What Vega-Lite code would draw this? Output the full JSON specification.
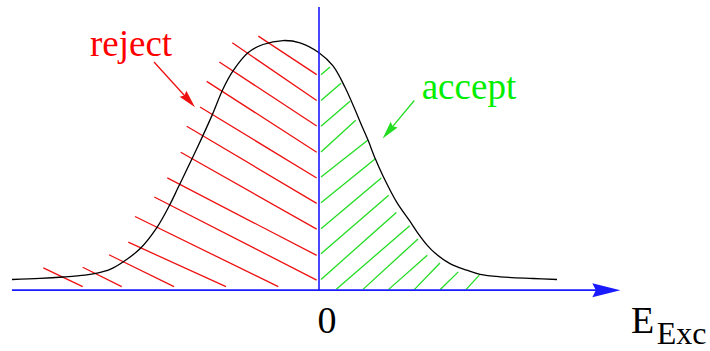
{
  "$schema": "https://vega.github.io/schema/vega-lite/v6.json",
  "width": 710,
  "height": 351,
  "padding": 0,
  "autosize": {"type": "fit", "contains": "padding"},
  "config": {"view": {"stroke": null}},
  "datasets": {
    "curve": [
      {"e": -3.07, "p": 0.108}, {"e": -2.79, "p": 0.119}, {"e": -2.56, "p": 0.133},
      {"e": -2.34, "p": 0.152}, {"e": -2.22, "p": 0.172}, {"e": -2.09, "p": 0.21},
      {"e": -1.96, "p": 0.285}, {"e": -1.79, "p": 0.418}, {"e": -1.62, "p": 0.635},
      {"e": -1.49, "p": 0.868}, {"e": -1.41, "p": 1.035}, {"e": -1.22, "p": 1.435},
      {"e": -1.07, "p": 1.768}, {"e": -0.96, "p": 2.035}, {"e": -0.86, "p": 2.218},
      {"e": -0.71, "p": 2.402}, {"e": -0.56, "p": 2.485}, {"e": -0.36, "p": 2.525},
      {"e": -0.19, "p": 2.502}, {"e": 0.0, "p": 2.402}, {"e": 0.14, "p": 2.268},
      {"e": 0.26, "p": 2.052}, {"e": 0.44, "p": 1.635}, {"e": 0.49, "p": 1.518},
      {"e": 0.563, "p": 1.328}, {"e": 0.64, "p": 1.155}, {"e": 0.78, "p": 0.885},
      {"e": 0.907, "p": 0.7}, {"e": 0.99, "p": 0.575}, {"e": 1.09, "p": 0.445},
      {"e": 1.16, "p": 0.375}, {"e": 1.31, "p": 0.268}, {"e": 1.477, "p": 0.202},
      {"e": 1.61, "p": 0.16}, {"e": 1.81, "p": 0.135}, {"e": 2.14, "p": 0.118},
      {"e": 2.38, "p": 0.108}
    ],
    "rejectHatch": [
      {"e": -0.607, "p": 2.57, "e2": -0.023, "p2": 2.18},
      {"e": -0.867, "p": 2.502, "e2": -0.023, "p2": 1.918},
      {"e": -0.997, "p": 2.308, "e2": -0.023, "p2": 1.66},
      {"e": -1.123, "p": 2.112, "e2": -0.023, "p2": 1.395},
      {"e": -1.19, "p": 1.852, "e2": -0.023, "p2": 1.135},
      {"e": -1.323, "p": 1.658, "e2": -0.023, "p2": 0.878},
      {"e": -1.383, "p": 1.395, "e2": -0.023, "p2": 0.618},
      {"e": -1.517, "p": 1.135, "e2": -0.023, "p2": 0.352},
      {"e": -1.647, "p": 0.942, "e2": -0.023, "p2": 0.102},
      {"e": -1.84, "p": 0.745, "e2": -0.407, "p2": 0.035},
      {"e": -1.907, "p": 0.485, "e2": -0.93, "p2": 0.035},
      {"e": -2.1, "p": 0.358, "e2": -1.45, "p2": 0.035},
      {"e": -2.363, "p": 0.232, "e2": -1.973, "p2": 0.035},
      {"e": -2.757, "p": 0.225, "e2": -2.363, "p2": 0.035}
    ],
    "acceptHatch": [
      {"e": 0.02, "p": 2.178, "e2": 0.11, "p2": 2.258},
      {"e": 0.02, "p": 1.918, "e2": 0.22, "p2": 2.092},
      {"e": 0.02, "p": 1.658, "e2": 0.31, "p2": 1.912},
      {"e": 0.02, "p": 1.398, "e2": 0.367, "p2": 1.718},
      {"e": 0.02, "p": 1.145, "e2": 0.49, "p2": 1.518},
      {"e": 0.02, "p": 0.885, "e2": 0.563, "p2": 1.328},
      {"e": 0.02, "p": 0.62, "e2": 0.623, "p2": 1.135},
      {"e": 0.02, "p": 0.368, "e2": 0.697, "p2": 0.96},
      {"e": 0.02, "p": 0.108, "e2": 0.773, "p2": 0.785},
      {"e": 0.173, "p": 0.008, "e2": 0.907, "p2": 0.652},
      {"e": 0.44, "p": 0.008, "e2": 0.99, "p2": 0.518},
      {"e": 0.697, "p": 0.008, "e2": 1.083, "p2": 0.352},
      {"e": 0.953, "p": 0.005, "e2": 1.21, "p2": 0.275},
      {"e": 1.21, "p": 0.005, "e2": 1.393, "p2": 0.185},
      {"e": 1.47, "p": 0.005, "e2": 1.603, "p2": 0.152}
    ],
    "axisLines": [
      {"e": -3.07, "p": 0, "e2": 2.8, "p2": 0},
      {"e": 0, "p": 0, "e2": 0, "p2": 2.865}
    ],
    "axisHead": [{"e": 2.8735, "p": 0}],
    "rejectPointer": [{"e": -1.65, "p": 2.308, "e2": -1.30, "p2": 1.919}],
    "rejectHead": [{"e": -1.30, "p": 1.919}],
    "acceptPointer": [{"e": 0.953, "p": 1.918, "e2": 0.694, "p2": 1.604}],
    "acceptHead": [{"e": 0.694, "p": 1.604}],
    "labels": [
      {"label": "reject", "e": -2.29, "p": 2.368},
      {"label": "accept", "e": 1.027, "p": 1.935},
      {"label": "0", "e": -0.015, "p": -0.432},
      {"label": "E", "e": 3.12, "p": -0.432},
      {"label": "Exc", "e": 3.377, "p": -0.548}
    ]
  },
  "encoding": {
    "x": {"field": "e", "type": "quantitative", "axis": null,
          "scale": {"domain": [-3.19, 3.91], "nice": false, "zero": false}},
    "y": {"field": "p", "type": "quantitative", "axis": null,
          "scale": {"domain": [-0.575, 2.935], "nice": false, "zero": false}}
  },
  "layer": [
    {
      "data": {"name": "rejectHatch"},
      "mark": {"type": "rule", "color": "#ee1111", "strokeWidth": 1.3},
      "encoding": {"x2": {"field": "e2"}, "y2": {"field": "p2"}}
    },
    {
      "data": {"name": "acceptHatch"},
      "mark": {"type": "rule", "color": "#22dd22", "strokeWidth": 1.3},
      "encoding": {"x2": {"field": "e2"}, "y2": {"field": "p2"}}
    },
    {
      "data": {"name": "curve"},
      "mark": {"type": "line", "color": "black", "strokeWidth": 1.3, "interpolate": "catmull-rom"},
      "encoding": {}
    },
    {
      "data": {"name": "axisLines"},
      "mark": {"type": "rule", "color": "#1a1aff", "strokeWidth": 1.6},
      "encoding": {"x2": {"field": "e2"}, "y2": {"field": "p2"}}
    },
    {
      "data": {"name": "axisHead"},
      "mark": {"type": "point", "filled": true, "opacity": 1, "color": "#1a1aff", "strokeWidth": 0,
               "shape": "M-1,-0.5L1,0L-1,0.5L-0.75,0Z", "size": 784, "angle": 0},
      "encoding": {}
    },
    {
      "data": {"name": "rejectPointer"},
      "mark": {"type": "rule", "color": "#ee1111", "strokeWidth": 1.3},
      "encoding": {"x2": {"field": "e2"}, "y2": {"field": "p2"}}
    },
    {
      "data": {"name": "rejectHead"},
      "mark": {"type": "point", "filled": true, "opacity": 1, "color": "#ee1111", "strokeWidth": 0,
               "shape": "M-1,-0.5L1,0L-1,0.5L-0.75,0Z", "size": 324, "angle": 48},
      "encoding": {}
    },
    {
      "data": {"name": "acceptPointer"},
      "mark": {"type": "rule", "color": "#22dd22", "strokeWidth": 1.3},
      "encoding": {"x2": {"field": "e2"}, "y2": {"field": "p2"}}
    },
    {
      "data": {"name": "acceptHead"},
      "mark": {"type": "point", "filled": true, "opacity": 1, "color": "#22dd22", "strokeWidth": 0,
               "shape": "M-1,-0.5L1,0L-1,0.5L-0.75,0Z", "size": 324, "angle": 129.5},
      "encoding": {}
    },
    {
      "data": {"name": "labels"},
      "transform": [{"filter": "datum.label === 'reject'"}],
      "mark": {"type": "text", "font": "Liberation Serif", "fontSize": 37, "color": "#ff0000", "align": "left", "baseline": "alphabetic"},
      "encoding": {"text": {"field": "label"}}
    },
    {
      "data": {"name": "labels"},
      "transform": [{"filter": "datum.label === 'accept'"}],
      "mark": {"type": "text", "font": "Liberation Serif", "fontSize": 37, "color": "#00ee00", "align": "left", "baseline": "alphabetic"},
      "encoding": {"text": {"field": "label"}}
    },
    {
      "data": {"name": "labels"},
      "transform": [{"filter": "datum.label === '0' || datum.label === 'E'"}],
      "mark": {"type": "text", "font": "Liberation Serif", "fontSize": 38, "color": "black", "align": "left", "baseline": "alphabetic"},
      "encoding": {"text": {"field": "label"}}
    },
    {
      "data": {"name": "labels"},
      "transform": [{"filter": "datum.label === 'Exc'"}],
      "mark": {"type": "text", "font": "Liberation Serif", "fontSize": 32, "color": "black", "align": "left", "baseline": "alphabetic"},
      "encoding": {"text": {"field": "label"}}
    }
  ]
}
